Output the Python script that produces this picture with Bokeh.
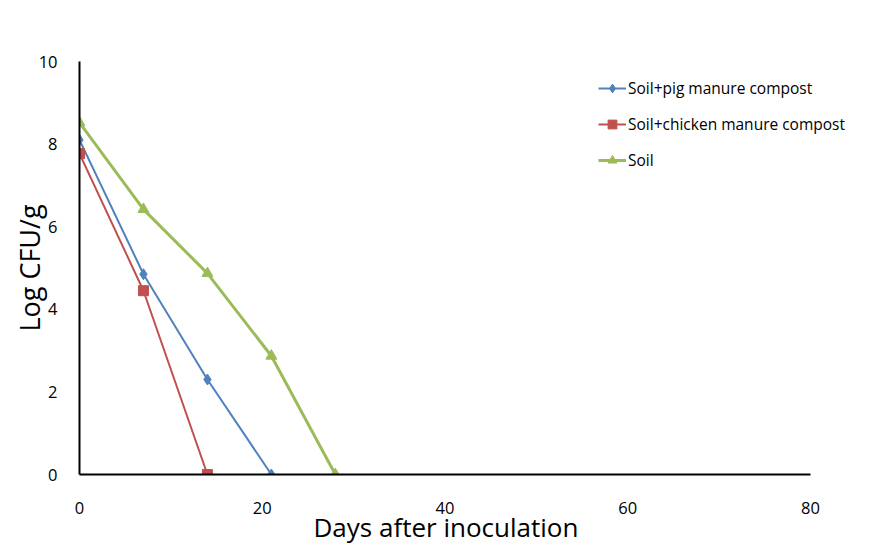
from bokeh.plotting import figure
from bokeh.models import Range1d, Legend, LegendItem, FixedTicker, Title
from bokeh.embed import file_html
from bokeh.resources import INLINE

pig_days = [0, 7, 14, 21]
pig_vals = [8.1, 4.85, 2.3, 0.0]
chicken_days = [0, 7, 14]
chicken_vals = [7.77, 4.45, 0.0]
soil_days = [0, 7, 14, 21, 28]
soil_vals = [8.52, 6.42, 4.87, 2.87, 0.0]
x_ticks = [0, 20, 40, 60, 80]
y_ticks = [0, 2, 4, 6, 8, 10]
x_title = "Days after inoculation"
y_title = "Log CFU/g"

FONT = "Open Sans"

# frame extends past x=80 so the legend is not clipped; the axis line stops at 80
X_END = 80 * (880 - 79) / (810 - 79)

p = figure(width=890, height=554, output_backend="svg", toolbar_location=None,
           x_range=Range1d(0, X_END), y_range=Range1d(0, 10),
           min_border_left=79, min_border_right=10, min_border_top=61, min_border_bottom=80)
p.outline_line_color = None
p.xgrid.visible = False
p.ygrid.visible = False
p.background_fill_color = "white"

for ax in (p.xaxis[0], p.yaxis[0]):
    ax.axis_line_color = "black"
    ax.axis_line_width = 2
    ax.major_tick_out = 0
    ax.major_tick_in = 0
    ax.minor_tick_out = 0
    ax.minor_tick_in = 0
    ax.major_label_text_font = FONT
    ax.major_label_text_font_size = "16.5px"
    ax.major_label_text_color = "black"
    ax.axis_label_text_font = FONT
    ax.axis_label_text_font_style = "normal"
    ax.axis_label_text_color = "black"

p.xaxis.ticker = FixedTicker(ticks=x_ticks)
p.yaxis.ticker = FixedTicker(ticks=y_ticks)
p.xaxis.bounds = (0, 80)
p.yaxis.axis_label = y_title
p.yaxis.axis_label_text_font_size = "27px"
p.xaxis.major_label_standoff = 27
p.yaxis.major_label_standoff = 22
p.yaxis.axis_label_standoff = -12

# x-axis title placed under the 0-80 axis line (frame is wider than the axis)
xt = Title(text=x_title, align="left", offset=234, standoff=-20,
           text_font=FONT, text_font_size="26px", text_font_style="normal",
           text_color="black")
p.add_layout(xt, "below")

blue = "#4F81BD"
red = "#C0504D"
green = "#9BBB59"

l1 = p.line(pig_days, pig_vals, line_color=blue, line_width=2)
m1 = p.scatter(pig_days, pig_vals, marker="diamond", size=11, fill_color=blue, line_color=blue)
l2 = p.line(chicken_days, chicken_vals, line_color=red, line_width=2)
m2 = p.scatter(chicken_days, chicken_vals, marker="square", size=10, fill_color=red, line_color=red)
l3 = p.line(soil_days, soil_vals, line_color=green, line_width=3)
m3 = p.scatter(soil_days, soil_vals, marker="triangle", size=11, fill_color=green, line_color=green)

legend = Legend(items=[
    LegendItem(label="Soil+pig manure compost", renderers=[l1, m1]),
    LegendItem(label="Soil+chicken manure compost", renderers=[l2, m2]),
    LegendItem(label="Soil", renderers=[l3, m3]),
], location=(519, 303))
legend.border_line_color = None
legend.background_fill_alpha = 0
legend.padding = 0
legend.margin = 0
legend.glyph_width = 28
legend.glyph_height = 22
legend.label_height = 22
legend.spacing = 14
legend.label_standoff = 2
legend.label_text_font = FONT
legend.label_text_font_size = "15.5px"
legend.label_text_color = "black"
p.add_layout(legend)

open("out.html", "w").write(file_html(p, INLINE))
